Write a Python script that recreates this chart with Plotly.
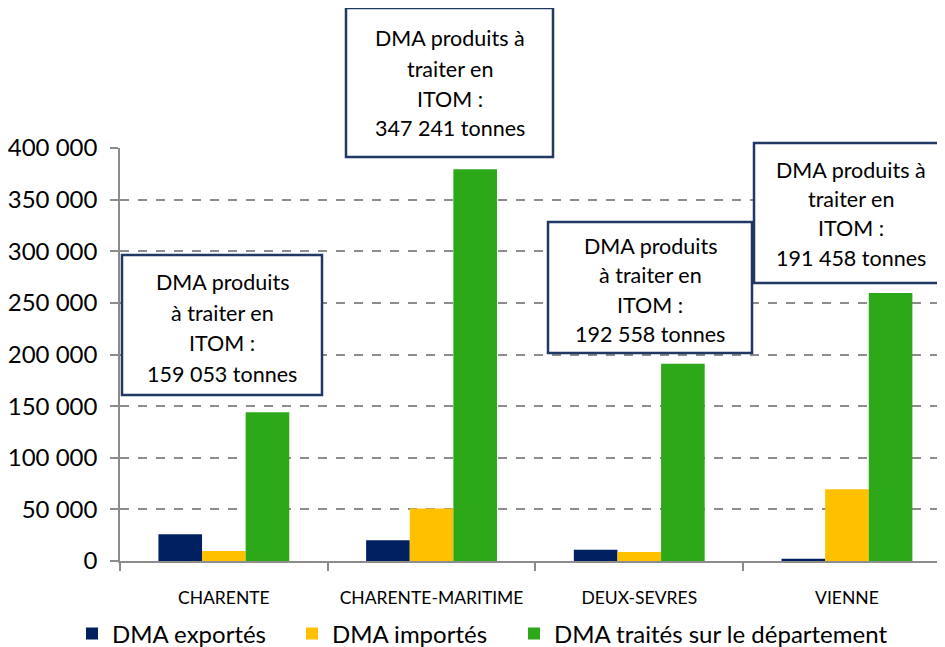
import plotly.graph_objects as go

categories = ["CHARENTE", "CHARENTE-MARITIME", "DEUX-SEVRES", "VIENNE"]
dma_exportes = [25800, 20000, 10900, 2200]
dma_importes = [9700, 50900, 8700, 69600]
dma_traites = [144000, 379400, 191000, 259600]
series_names = ["DMA exportés", "DMA importés", "DMA traités sur le département"]
series_colors = ["#002060", "#FFC000", "#2DA819"]
y_ticks = [0, 50000, 100000, 150000, 200000, 250000, 300000, 350000, 400000]

box_texts = [
    ["DMA produits", "à traiter en", "ITOM :", "159 053 tonnes"],
    ["DMA produits à", "traiter en", "ITOM :", "347 241 tonnes"],
    ["DMA produits", "à traiter en", "ITOM :", "192 558 tonnes"],
    ["DMA produits à", "traiter en", "ITOM :", "191 458 tonnes"],
]

OFF = 8  # page body margin
W, H = 945 - OFF, 647 - OFF
# plot area in page pixels
L, R, T, B = 120, 945, 148, 561
FONT = "Lato"


def px(x):
    return (x - L) / (R - L)


def py(y):
    return (B - y) / (B - T)


fig = go.Figure()
legend_refs = ["legend", "legend", "legend2"]
for name, vals, col, lg in zip(series_names, [dma_exportes, dma_importes, dma_traites], series_colors, legend_refs):
    fig.add_trace(go.Bar(x=categories, y=vals, name=name, legend=lg,
                         marker=dict(color=col, line=dict(width=0))))

# boxes: (left, top, right, bottom) in page pixels, line y centers
boxes = [
    ((122, 255, 322, 395), [282, 313, 343, 374]),
    ((346, 8, 553, 157), [38, 69, 99, 128]),
    ((548, 222, 752, 353), [246, 275, 305, 334]),
    ((754, 143, 948, 283), [170, 199, 228, 258]),
]
shapes = []
annotations = []
for (bx, lines_y), texts in zip(boxes, box_texts):
    x0, y0, x1, y1 = bx
    shapes.append(dict(type="rect", xref="paper", yref="paper", x0=px(x0), x1=px(x1), y0=py(y1), y1=py(y0),
                       line=dict(color="#1F3864", width=2.5), fillcolor="white", layer="above"))
    cx = (x0 + x1) / 2
    for t, ly in zip(texts, lines_y):
        annotations.append(dict(text=t, xref="paper", yref="paper", x=px(cx), y=py(ly), xanchor="center",
                                yanchor="middle", showarrow=False, font=dict(family=FONT, size=21.5, color="black")))

legend_common = dict(orientation="h", y=py(634), xanchor="left", yanchor="middle",
                     font=dict(family=FONT, size=24, color="black"), itemwidth=30, tracegroupgap=0,
                     bgcolor="rgba(0,0,0,0)")

fig.update_layout(
    width=W, height=H,
    margin=dict(l=L - OFF, r=0, t=T - OFF, b=647 - B, pad=0, autoexpand=False),
    paper_bgcolor="white", plot_bgcolor="white",
    barmode="group", bargap=0.37, bargroupgap=0,
    separators=", ",
    font=dict(family=FONT, color="black"),
    shapes=shapes, annotations=annotations,
    legend=dict(x=px(72), entrywidth=175, entrywidthmode="pixels", **legend_common),
    legend2=dict(x=px(514), **legend_common),
    xaxis=dict(range=[-0.5, 3.472], showline=True, linecolor="#8C8C8C", linewidth=1.5, automargin=False,
               ticks="outside", tickson="boundaries", ticklen=8, tickcolor="#8C8C8C", tickwidth=1.5,
               tickfont=dict(family=FONT, size=17.5, color="black"), ticklabelstandoff=20, showgrid=False),
    yaxis=dict(range=[0, 400000], tickvals=y_ticks, tickformat=",d", showline=True, linecolor="#8C8C8C",
               linewidth=1.5, ticks="outside", ticklen=8, tickcolor="#8C8C8C", tickwidth=1.5, automargin=False,
               showgrid=True, gridcolor="#8C8C8C", griddash="dash", gridwidth=1.5, zeroline=False,
               tickfont=dict(family=FONT, size=24, color="black"), ticklabelstandoff=8),
)
fig.write_html("out.html")
